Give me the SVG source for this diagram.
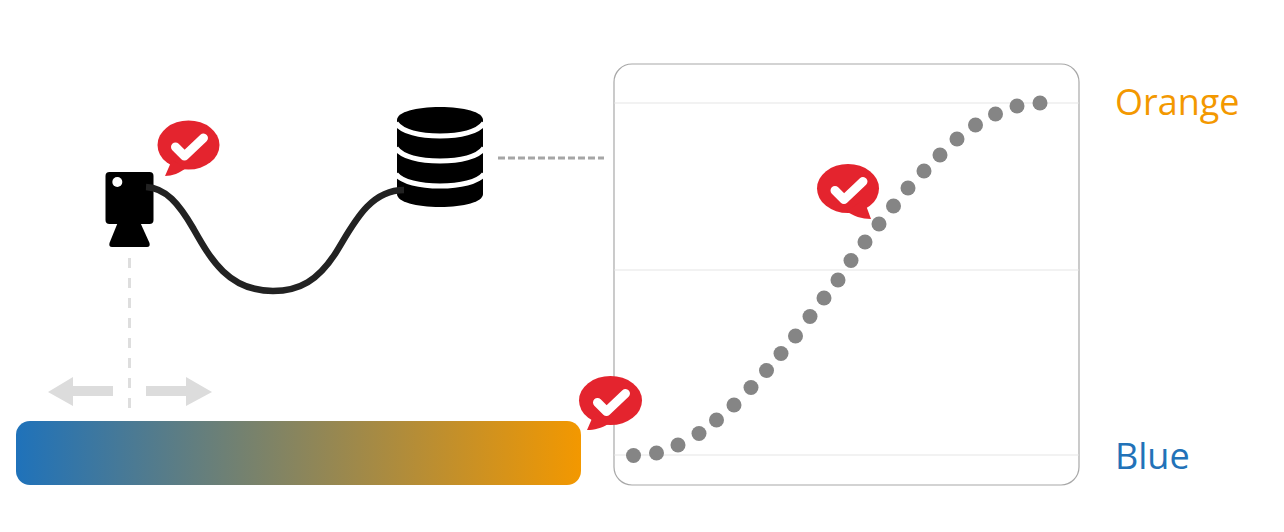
<svg xmlns="http://www.w3.org/2000/svg" width="1284" height="532" viewBox="0 0 1284 532">
<style>
.label{font-family:"Open Sans","Noto Sans","Liberation Sans",sans-serif;font-size:36px}
.grid{stroke:#e2e2e2;stroke-width:.9;fill:none}
.pt{fill:#858585}
.chk{fill:none;stroke:#fff;stroke-width:9;stroke-linecap:round;stroke-linejoin:round}
.bub{fill:#e4242e}
.pale{fill:#dcdcdc}
</style>
<defs>
<linearGradient id="g" x1="0" x2="1" y1="0" y2="0"><stop offset="0" stop-color="#1f72ba"/><stop offset="1" stop-color="#f39800"/></linearGradient>
<path id="check" class="chk" d="M-13,2 L-4,11 L15,-7"/>
</defs>
<rect width="1284" height="532" fill="#fff"/>
<g id="chart">
<rect x="614" y="64" width="465" height="421" rx="18" fill="#fff" stroke="#a8a8a8" stroke-width="1.2"/>
<path class="grid" d="M614,103H1079M614,270H1079M614,455H1079"/>
<g id="points">
<circle class="pt" cx="633.500" cy="455.500" r="7.500"/><circle class="pt" cx="656.500" cy="453" r="7.500"/><circle class="pt" cx="678" cy="445" r="7.500"/><circle class="pt" cx="699" cy="433.500" r="7.500"/><circle class="pt" cx="716.500" cy="420" r="7.500"/><circle class="pt" cx="734" cy="405" r="7.500"/><circle class="pt" cx="751" cy="387.500" r="7.500"/><circle class="pt" cx="766.500" cy="370.500" r="7.500"/><circle class="pt" cx="781" cy="353.500" r="7.500"/><circle class="pt" cx="795.500" cy="336" r="7.500"/><circle class="pt" cx="810" cy="316.500" r="7.500"/><circle class="pt" cx="824" cy="298" r="7.500"/><circle class="pt" cx="838" cy="280" r="7.500"/><circle class="pt" cx="851" cy="260.500" r="7.500"/><circle class="pt" cx="865" cy="242" r="7.500"/><circle class="pt" cx="879" cy="224" r="7.500"/><circle class="pt" cx="893.500" cy="206" r="7.500"/><circle class="pt" cx="908" cy="188" r="7.500"/><circle class="pt" cx="924" cy="171" r="7.500"/><circle class="pt" cx="940" cy="155" r="7.500"/><circle class="pt" cx="957" cy="139" r="7.500"/><circle class="pt" cx="975.500" cy="125" r="7.500"/><circle class="pt" cx="995.500" cy="114" r="7.500"/><circle class="pt" cx="1017" cy="106" r="7.500"/><circle class="pt" cx="1040" cy="103" r="7.500"/>
</g>
</g>
<g id="connectors">
<path d="M498,158H604" fill="none" stroke="#a6a6a6" stroke-width="3" stroke-dasharray="7 3"/>
<path d="M129.500,258V408" fill="none" stroke="#dedede" stroke-width="3" stroke-dasharray="10 10"/>
</g>
<g id="arrow-left"><path class="pale" d="M48,392L73,377V386H113V396H73V406Z"/></g>
<g id="arrow-right"><path class="pale" d="M212,392L186,377V386H146V396H186V406Z"/></g>
<g id="gradient-bar"><rect x="16" y="421" width="565" height="64" rx="14" fill="url(#g)"/></g>
<g id="camera">
<rect x="105.500" y="172" width="48" height="52" rx="4" fill="#000"/>
<path d="M118,222H140L149.500,243Q150.500,247 147,247H112Q108.500,247 109.500,243Z" fill="#000"/>
<circle cx="117.300" cy="182" r="5" fill="#fff"/>
</g>
<g id="database">
<path d="M397,120C397,112 416,107 440,107C464,107 483,112 483,120V194C483,202 464,207 440,207C416,207 397,202 397,194Z" fill="#000"/>
<g fill="none" stroke="#fff" stroke-width="5">
<path d="M396,123C402,132 420,136 440,136C460,136 478,132 484,123"/>
<path d="M396,148C402,157 420,161 440,161C460,161 478,157 484,148"/>
<path d="M396,174C402,182 420,186 440,186C460,186 478,182 484,174"/>
</g>
</g>
<g id="cable-group">
<path d="M146,187C166,188 179,204 193,228C210,258 228,291 273,291C300,291 318,280 335,254C352,227 368,190 404,190" fill="none" stroke="#222" stroke-width="6.500"/>
</g>
<g id="badge-camera">
<ellipse class="bub" cx="188.500" cy="145" rx="31" ry="24.500"/>
<path class="bub" d="M172,160L165,176C172,176 180,173 186,168Z"/>
<use href="#check" x="188.500" y="145"/>
</g>
<g id="badge-curve">
<ellipse class="bub" cx="848" cy="188.500" rx="31" ry="24.500"/>
<path class="bub" d="M864,200L871,219C862,219 853,216 846,211Z"/>
<use href="#check" x="848" y="188.500"/>
</g>
<g id="badge-start">
<ellipse class="bub" cx="610.500" cy="400.500" rx="31.500" ry="24.500"/>
<path class="bub" d="M594,414L587,430C594,430 602,428 608,424Z"/>
<use href="#check" x="610.500" y="400.500"/>
</g>
<text class="label" x="1115" y="115" fill="#f39800">Orange</text>
<text class="label" x="1115" y="469" fill="#2272b8">Blue</text>
</svg>
